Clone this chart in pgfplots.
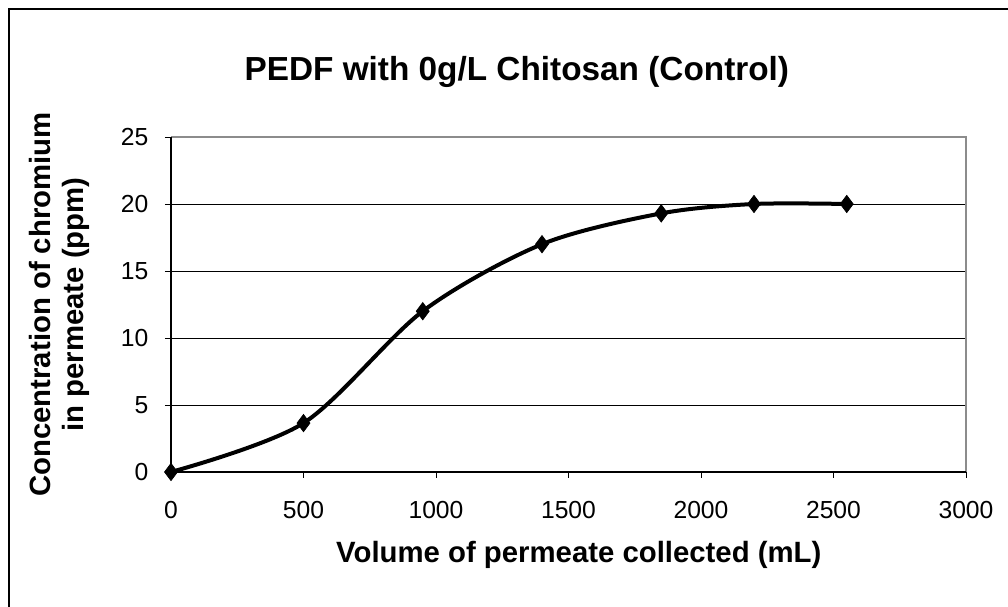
\documentclass[border=0pt]{standalone}
\usepackage{pgfplots}
\pgfplotsset{compat=1.18}
\usepackage{fontspec}
\setmainfont{Liberation Sans}
\begin{document}
\begin{tikzpicture}[x=0.75pt,y=0.75pt]
\useasboundingbox (0,0) rectangle (1008,607);
\draw[black,line width=1.5pt] (9,-5) -- (9,598) -- (1015,598);
\begin{axis}[
  at={(128.25pt,101.25pt)}, anchor=south west,
  scale only axis, width=596.25pt, height=251.25pt,
  xmin=0, xmax=3000, ymin=0, ymax=25,
  xtick={0,500,...,3000}, ytick={0,5,...,25},
  axis line style={draw=none},
  ymajorgrids, grid style={black, line width=0.7pt},
  tick style={black, line width=0.7pt},
  tick align=outside, major tick length=4.5pt,
  xtick pos=bottom, ytick pos=left,
  /pgf/number format/assume math mode=true,
  /pgf/number format/set thousands separator={},
  ticklabel style={font=\fontsize{18.5}{22}\selectfont},
  xticklabel style={yshift=-14pt},
  yticklabel style={xshift=-9pt},
  title={PEDF with 0g/L Chitosan (Control)},
  title style={font=\bfseries\fontsize{25}{30}\selectfont, at={(axis description cs:0.435,1.17)}, anchor=center},
  xlabel={Volume of permeate collected (mL)},
  xlabel style={font=\bfseries\fontsize{22}{26}\selectfont, at={(axis description cs:0.513,-0.248)}, anchor=center},
  ylabel={Concentration of chromium\\in permeate (ppm)},
  ylabel style={font=\bfseries\fontsize{22}{24.75}\selectfont, align=center, at={(axis description cs:-0.14,0.5)}, anchor=center},
  clip=false,
]
\draw[gray!90, line width=1.6pt] (axis cs:0,25) -- (axis cs:3000,25) -- (axis cs:3000,0);
\draw[black, line width=1.2pt] (axis cs:0,25) -- (axis cs:0,0) -- (axis cs:3000,0);
\addplot[black, line width=3pt, smooth, tension=0.5, mark=diamond*, mark size=6.5pt, mark options={fill=black, line width=0.5pt}]
coordinates {(0,0) (500,3.65) (950,12) (1400,17) (1850,19.3) (2200,20) (2550,20)};
\end{axis}
\end{tikzpicture}
\end{document}
